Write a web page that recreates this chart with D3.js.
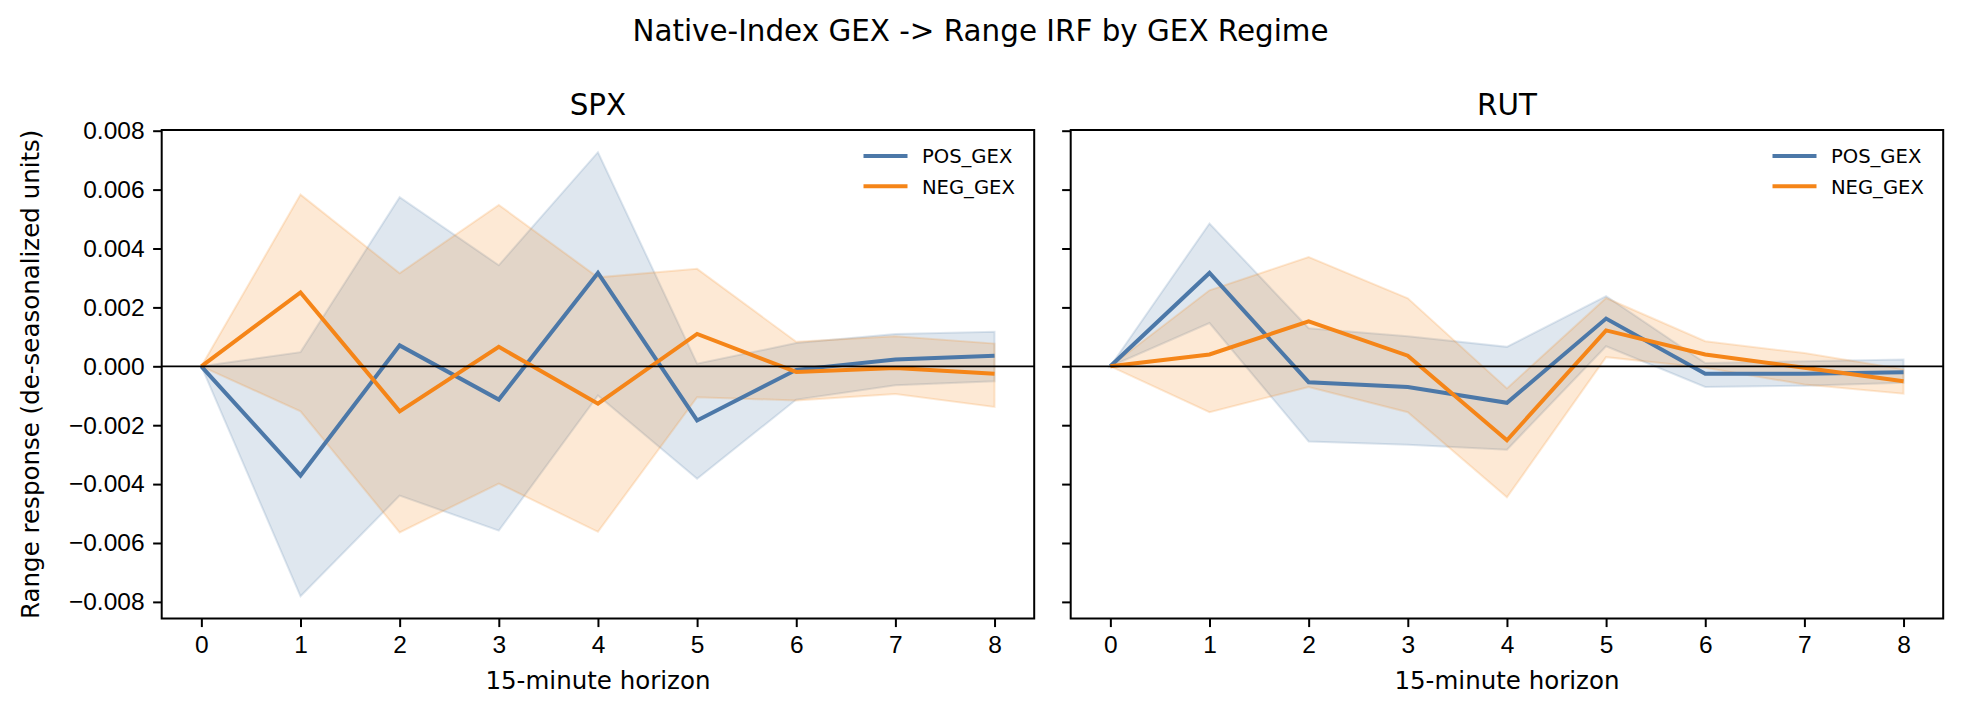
<!DOCTYPE html>
<html>
<head>
<meta charset="utf-8">
<script src="https://cdn.jsdelivr.net/npm/d3@7"></script>
<style>
    body { margin: 0; background: #fff; }
    svg { display: block; font-family: "DejaVu Sans", sans-serif; }
    .tick text { fill: #000; }
</style>
</head>
<body>
<div id="chart"></div>
<script>
// horizons (15-minute steps) on the x axis
let horizons = [0, 1, 2, 3, 4, 5, 6, 7, 8];
let xTicks = [0, 1, 2, 3, 4, 5, 6, 7, 8];
let yTicks = [-0.008, -0.006, -0.004, -0.002, 0, 0.002, 0.004, 0.006, 0.008];

let regimes = ['POS_GEX', 'NEG_GEX'];
let panels = ['SPX', 'RUT'];

// SPX impulse responses and bands
let spxPos   = [0, -0.00371, 0.00071, -0.00113, 0.00317, -0.00184, -0.00012, 0.00023, 0.00036];
let spxPosLo = [0, -0.00781, -0.00439, -0.00558, -0.00099, -0.00382, -0.00113, -0.00064, -0.00051];
let spxPosHi = [0, 0.00048, 0.00574, 0.00343, 0.00727, 0.00009, 0.00079, 0.00110, 0.00117];
let spxNeg   = [0, 0.00251, -0.00153, 0.00066, -0.00127, 0.00110, -0.00019, -0.00006, -0.00025];
let spxNegLo = [0, -0.00153, -0.00564, -0.00398, -0.00562, -0.00105, -0.00116, -0.00094, -0.00138];
let spxNegHi = [0, 0.00583, 0.00316, 0.00548, 0.00302, 0.00331, 0.00083, 0.00102, 0.00077];

// RUT impulse responses and bands
let rutPos   = [0, 0.00317, -0.00054, -0.00070, -0.00124, 0.00162, -0.00025, -0.00025, -0.00020];
let rutPosLo = [0, 0.00147, -0.00255, -0.00266, -0.00283, 0.00068, -0.00070, -0.00066, -0.00056];
let rutPosHi = [0, 0.00485, 0.00129, 0.00102, 0.00066, 0.00238, 0.00011, 0.00017, 0.00023];
let rutNeg   = [0, 0.00040, 0.00153, 0.00036, -0.00251, 0.00122, 0.00040, -0.00005, -0.00051];
let rutNegLo = [0, -0.00156, -0.00070, -0.00156, -0.00445, 0.00031, -0.00005, -0.00062, -0.00093];
let rutNegHi = [0, 0.00258, 0.00371, 0.00231, -0.00075, 0.00232, 0.00085, 0.00045, -0.00010];

let colors = {POS_GEX: '#4c78a8', NEG_GEX: '#f58518'};

let panelData = {
    SPX: {
        POS_GEX: {mid: spxPos, lo: spxPosLo, hi: spxPosHi},
        NEG_GEX: {mid: spxNeg, lo: spxNegLo, hi: spxNegHi}
    },
    RUT: {
        POS_GEX: {mid: rutPos, lo: rutPosLo, hi: rutPosHi},
        NEG_GEX: {mid: rutNeg, lo: rutNegLo, hi: rutNegHi}
    }
};

let W = 1961, H = 712;
let pt = 2.45; // px per point

let svg = d3.select('#chart').append('svg')
    .attr('width', W)
    .attr('height', H);

// suptitle
svg.append('text')
    .attr('x', W / 2)
    .attr('y', 40.5)
    .attr('text-anchor', 'middle')
    .style('font-size', '29.4px')
    .text('Native-Index GEX -> Range IRF by GEX Regime');

// shared y domain, matplotlib style 5% margin
let allVals = [].concat(spxPosLo, spxPosHi, spxNegLo, spxNegHi, rutPosLo, rutPosHi, rutNegLo, rutNegHi,
                        spxPos, spxNeg, rutPos, rutNeg);
let ext = d3.extent(allVals);
let pad = (ext[1] - ext[0]) * 0.05;

let axTop = 130, axBottom = 618.5;
let axLefts = [161.7, 1070.7], axWidth = 872.5;

let y = d3.scaleLinear()
    .domain([ext[0] - pad, ext[1] + pad])
    .range([axBottom, axTop]);

let fmt = function(d) { return d3.format('.3f')(d).replace('-', '\u2212'); };

panels.forEach(function(name, p) {
    let left = axLefts[p];
    let x = d3.scaleLinear()
        .domain([-0.4, 8.4])
        .range([left, left + axWidth]);

    let bandLayer = svg.append('g');
    let lineLayer = svg.append('g');

    // bands below, lines on top (like matplotlib zorder)
    regimes.forEach(function(reg) {
        let d = panelData[name][reg];
        let rows = horizons.map(function(h, i) { return {h: h, mid: d.mid[i], lo: d.lo[i], hi: d.hi[i]}; });

        let area = d3.area()
            .x(function(r) { return x(r.h); })
            .y0(function(r) { return y(r.lo); })
            .y1(function(r) { return y(r.hi); });

        bandLayer.append('path')
            .datum(rows)
            .attr('d', area)
            .attr('fill', colors[reg])
            .attr('fill-opacity', 0.18)
            .attr('stroke', colors[reg])
            .attr('stroke-opacity', 0.18)
            .attr('stroke-width', 2);

        let line = d3.line()
            .x(function(r) { return x(r.h); })
            .y(function(r) { return y(r.mid); });

        lineLayer.append('path')
            .datum(rows)
            .attr('d', line)
            .attr('fill', 'none')
            .attr('stroke', colors[reg])
            .attr('stroke-width', 4)
            .attr('stroke-linejoin', 'miter');
    });

    // zero line
    lineLayer.append('line')
        .attr('x1', left).attr('x2', left + axWidth)
        .attr('y1', y(0)).attr('y2', y(0))
        .attr('stroke', '#000')
        .attr('stroke-width', 1.7);

    // axes
    let xAxis = d3.axisBottom(x)
        .tickValues(xTicks)
        .tickFormat(d3.format('d'))
        .tickSize(3.5 * pt)
        .tickPadding(3.5 * pt);
    let gx = svg.append('g')
        .attr('transform', 'translate(0,' + axBottom + ')')
        .call(xAxis);
    gx.select('.domain').remove();
    gx.selectAll('.tick line').attr('stroke', '#000').attr('stroke-width', 2);
    gx.selectAll('.tick text').style('font-size', '24.5px');

    let yAxis = d3.axisLeft(y)
        .tickValues(yTicks)
        .tickFormat(p == 0 ? fmt : '')
        .tickSize(3.5 * pt)
        .tickPadding(3.5 * pt);
    let gy = svg.append('g')
        .attr('transform', 'translate(' + left + ',0)')
        .call(yAxis);
    gy.select('.domain').remove();
    gy.selectAll('.tick line').attr('stroke', '#000').attr('stroke-width', 2);
    gy.selectAll('.tick text').style('font-size', '24.5px');

    // frame
    svg.append('rect')
        .attr('x', left).attr('y', axTop)
        .attr('width', axWidth).attr('height', axBottom - axTop)
        .attr('fill', 'none')
        .attr('stroke', '#000')
        .attr('stroke-width', 2);

    // panel title
    svg.append('text')
        .attr('x', left + axWidth / 2)
        .attr('y', 115)
        .attr('text-anchor', 'middle')
        .style('font-size', '29.4px')
        .text(name);

    // x label
    svg.append('text')
        .attr('x', left + axWidth / 2)
        .attr('y', 689)
        .attr('text-anchor', 'middle')
        .style('font-size', '24.5px')
        .text('15-minute horizon');

    // legend, no frame, upper right
    let right = left + axWidth;
    let legend = svg.selectAll('.legend' + p)
        .data(regimes)
      .enter().append('g')
        .attr('class', 'legend' + p)
        .attr('transform', function(d, i) { return 'translate(0,' + (axTop + 26 + i * 30.3) + ')'; });

    legend.append('line')
        .attr('x1', right - 170.7).attr('x2', right - 126.7)
        .attr('y1', 0).attr('y2', 0)
        .attr('stroke', function(d) { return colors[d]; })
        .attr('stroke-width', 4);

    legend.append('text')
        .attr('x', right - 112.3)
        .attr('y', 7.2)
        .style('font-size', '19.6px')
        .text(function(d) { return d; });
});

// y label
svg.append('text')
    .attr('transform', 'translate(38.5,' + ((axTop + axBottom) / 2) + ') rotate(-90)')
    .attr('text-anchor', 'middle')
    .style('font-size', '24.5px')
    .text('Range response (de-seasonalized units)');
</script>
</body>
</html>
